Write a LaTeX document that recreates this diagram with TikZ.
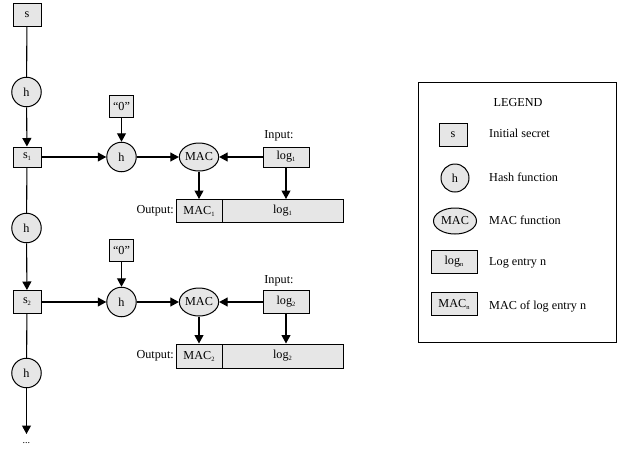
\documentclass[tikz,border=0pt]{standalone}
\usepackage{fontspec}
\setmainfont{Liberation Serif}
\usetikzlibrary{arrows.meta,shapes.geometric}
\definecolor{boxgray}{RGB}{230,230,230}
\newcommand\sub[1]{\raisebox{-0.35ex}{\fontsize{6.5}{6.5}\selectfont #1}}
\begin{document}
\begin{tikzpicture}[x=1pt,y=-1pt, font=\fontsize{12.2}{14}\selectfont,
  box/.style={draw, fill=boxgray, line width=1pt, inner sep=0pt, minimum height=22pt},
  hcirc/.style={circle, draw, fill=boxgray, line width=1pt, inner sep=0pt, minimum size=29.5pt},
  macell/.style={ellipse, draw, fill=boxgray, line width=1pt, inner sep=0pt, minimum width=37pt, minimum height=28pt},
  conn/.style={line width=1.1pt},
  arr/.style={conn, -{Triangle[length=8.5pt,width=9pt]}},
  lbl/.style={inner sep=0pt}]
\useasboundingbox (0,0) rectangle (622,448);

% chain
\node[box, minimum width=28pt, minimum height=23pt] (s) at (27,15) {s};
\node[hcirc] (h0) at (26.5,92) {h};
\node[box, minimum width=28pt, minimum height=20pt] (s1) at (27,157) {s\sub{1}};
\node[hcirc] (h2) at (26.5,228) {h};
\node[box, minimum width=28pt, minimum height=23pt] (s2) at (27,302) {s\sub{2}};
\node[hcirc] (h4) at (26.5,373) {h};
\coordinate (end) at (26.5,434);
\node[lbl] (dots) at (26.5,443) {\fontsize{10}{10}\selectfont...};

% row 1
\node[box, minimum width=24pt] (z1) at (121.5,106) {“0”};
\node[hcirc] (h1) at (121.5,157) {h};
\node[macell] (mac1) at (199,157) {MAC};
\node[box, minimum width=46pt, minimum height=20pt] (log1) at (286,157) {log\sub{1}};
\node[lbl] (in1) at (279,136) {Input:};
\node[box, minimum width=46pt, minimum height=23pt] (om1) at (199,211) {MAC\sub{1}};
\node[box, minimum width=121pt, minimum height=23pt] (ol1) at (282.5,211) {log\sub{1}};
\node[lbl, anchor=east] (out1) at (174,211) {Output:};

% row 2
\node[box, minimum width=24pt] (z2) at (121.5,250) {“0”};
\node[hcirc] (h3) at (121.5,302) {h};
\node[macell] (mac2) at (199,302) {MAC};
\node[box, minimum width=46pt, minimum height=23pt] (log2) at (286,302) {log\sub{2}};
\node[lbl] (in2) at (279,281) {Input:};
\node[box, minimum width=46pt, minimum height=24pt] (om2) at (199,356) {MAC\sub{2}};
\node[box, minimum width=121pt, minimum height=24pt] (ol2) at (282.5,356) {log\sub{2}};
\node[lbl, anchor=east] (out2) at (174,356) {Output:};

% connectors chain
\draw[conn] (s) -- (h0);
\draw[arr] (h0) -- (s1);
\draw[conn] (s1) -- (h2);
\draw[arr] (h2) -- (s2);
\draw[conn] (s2) -- (h4);
\draw[arr] (h4) -- (end);

% connectors row 1
\draw[arr] (s1) -- (h1);
\draw[arr] (z1) -- (h1);
\draw[arr] (h1) -- (mac1);
\draw[arr] (log1) -- (mac1);
\draw[arr] (mac1) -- (om1);
\draw[arr] (log1.south) -- (log1.south |- ol1.north);

% connectors row 2
\draw[arr] (s2) -- (h3);
\draw[arr] (z2) -- (h3);
\draw[arr] (h3) -- (mac2);
\draw[arr] (log2) -- (mac2);
\draw[arr] (mac2) -- (om2);
\draw[arr] (log2.south) -- (log2.south |- ol2.north);

% legend
\node[draw, line width=1pt, minimum width=198pt, minimum height=260pt, inner sep=0pt] (legend) at (517,212) {};
\node[lbl] (legtitle) at (518,103) {LEGEND};
\node[box, minimum width=28pt, minimum height=23pt] (ls) at (453,135) {s};
\node[lbl, anchor=west] (lst) at (489,133) {Initial secret};
\node[hcirc, minimum size=28pt] (lh) at (455,178) {h};
\node[lbl, anchor=west] (lht) at (489,177) {Hash function};
\node[macell, minimum width=43pt, minimum height=26pt] (lm) at (455,221) {MAC};
\node[lbl, anchor=west] (lmt) at (489,220) {MAC function};
\node[box, minimum width=46pt, minimum height=23pt] (ll) at (454,262) {log\sub{n}};
\node[lbl, anchor=west] (llt) at (489,263) {Log entry n};
\node[box, minimum width=46pt, minimum height=23pt] (lmac) at (454,304) {MAC\sub{n}};
\node[lbl, anchor=west] (lmact) at (489,307) {MAC of log entry n};
\end{tikzpicture}
\end{document}
